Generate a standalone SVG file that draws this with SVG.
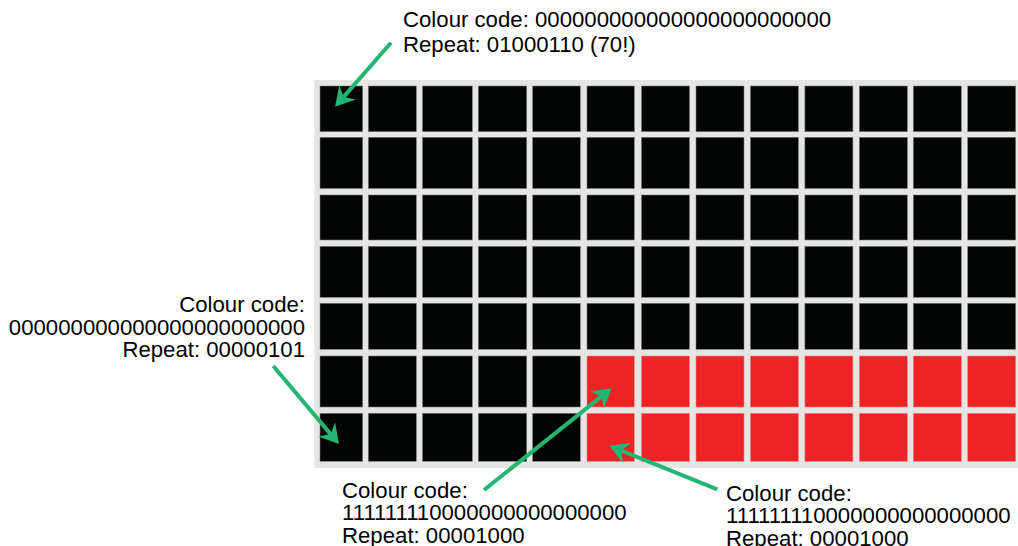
<svg xmlns="http://www.w3.org/2000/svg" width="1018" height="546" viewBox="0 0 1018 546">
<style>
  .lbl { font-family: "Liberation Sans", Arial, sans-serif; font-size: 22.2px; fill: #000; }
  .blk { fill: #030504; stroke: #7a7a7a; stroke-width: 0.6; }
  .red { fill: #ee2326; stroke: #f08080; stroke-width: 0.6; }
  .arr { stroke: #22b573; stroke-width: 4; fill: none; marker-end: url(#head); }
</style>
<defs>
  <marker id="head" viewBox="-20 -12 21 24" refX="-13" refY="0" markerWidth="21" markerHeight="24" markerUnits="userSpaceOnUse" orient="auto">
    <path d="M0,0 L-19,-11 L-13,0 L-19,11 Z" fill="#22b573"/>
  </marker>
</defs>
<rect width="1018" height="546" fill="#fff"/>
<g id="grid">
  <rect x="314.3" y="80" width="704" height="388" fill="#e5e5e4"/>
  <g id="row1">
    <rect class="blk" x="320" y="86" width="42.7" height="45.7"/>
    <rect class="blk" x="368.3" y="86" width="48" height="45.7"/>
    <rect class="blk" x="422.5" y="86" width="49.8" height="45.7"/>
    <rect class="blk" x="478.3" y="86" width="48.4" height="45.7"/>
    <rect class="blk" x="532.7" y="86" width="47.6" height="45.7"/>
    <rect class="blk" x="587" y="86" width="47.3" height="45.7"/>
    <rect class="blk" x="641.5" y="86" width="48" height="45.7"/>
    <rect class="blk" x="696" y="86" width="48" height="45.7"/>
    <rect class="blk" x="750.4" y="86" width="48" height="45.7"/>
    <rect class="blk" x="804.9" y="86" width="48" height="45.7"/>
    <rect class="blk" x="859.3" y="86" width="48" height="45.7"/>
    <rect class="blk" x="913.3" y="86" width="48" height="45.7"/>
    <rect class="blk" x="967.7" y="86" width="48" height="45.7"/>
  </g>
  <g id="row2">
    <rect class="blk" x="320" y="137.3" width="42.7" height="51.2"/>
    <rect class="blk" x="368.3" y="137.3" width="48" height="51.2"/>
    <rect class="blk" x="422.5" y="137.3" width="49.8" height="51.2"/>
    <rect class="blk" x="478.3" y="137.3" width="48.4" height="51.2"/>
    <rect class="blk" x="532.7" y="137.3" width="47.6" height="51.2"/>
    <rect class="blk" x="587" y="137.3" width="47.3" height="51.2"/>
    <rect class="blk" x="641.5" y="137.3" width="48" height="51.2"/>
    <rect class="blk" x="696" y="137.3" width="48" height="51.2"/>
    <rect class="blk" x="750.4" y="137.3" width="48" height="51.2"/>
    <rect class="blk" x="804.9" y="137.3" width="48" height="51.2"/>
    <rect class="blk" x="859.3" y="137.3" width="48" height="51.2"/>
    <rect class="blk" x="913.3" y="137.3" width="48" height="51.2"/>
    <rect class="blk" x="967.7" y="137.3" width="48" height="51.2"/>
  </g>
  <g id="row3">
    <rect class="blk" x="320" y="195" width="42.7" height="45"/>
    <rect class="blk" x="368.3" y="195" width="48" height="45"/>
    <rect class="blk" x="422.5" y="195" width="49.8" height="45"/>
    <rect class="blk" x="478.3" y="195" width="48.4" height="45"/>
    <rect class="blk" x="532.7" y="195" width="47.6" height="45"/>
    <rect class="blk" x="587" y="195" width="47.3" height="45"/>
    <rect class="blk" x="641.5" y="195" width="48" height="45"/>
    <rect class="blk" x="696" y="195" width="48" height="45"/>
    <rect class="blk" x="750.4" y="195" width="48" height="45"/>
    <rect class="blk" x="804.9" y="195" width="48" height="45"/>
    <rect class="blk" x="859.3" y="195" width="48" height="45"/>
    <rect class="blk" x="913.3" y="195" width="48" height="45"/>
    <rect class="blk" x="967.7" y="195" width="48" height="45"/>
  </g>
  <g id="row4">
    <rect class="blk" x="320" y="246.3" width="42.7" height="51"/>
    <rect class="blk" x="368.3" y="246.3" width="48" height="51"/>
    <rect class="blk" x="422.5" y="246.3" width="49.8" height="51"/>
    <rect class="blk" x="478.3" y="246.3" width="48.4" height="51"/>
    <rect class="blk" x="532.7" y="246.3" width="47.6" height="51"/>
    <rect class="blk" x="587" y="246.3" width="47.3" height="51"/>
    <rect class="blk" x="641.5" y="246.3" width="48" height="51"/>
    <rect class="blk" x="696" y="246.3" width="48" height="51"/>
    <rect class="blk" x="750.4" y="246.3" width="48" height="51"/>
    <rect class="blk" x="804.9" y="246.3" width="48" height="51"/>
    <rect class="blk" x="859.3" y="246.3" width="48" height="51"/>
    <rect class="blk" x="913.3" y="246.3" width="48" height="51"/>
    <rect class="blk" x="967.7" y="246.3" width="48" height="51"/>
  </g>
  <g id="row5">
    <rect class="blk" x="320" y="303.3" width="42.7" height="46"/>
    <rect class="blk" x="368.3" y="303.3" width="48" height="46"/>
    <rect class="blk" x="422.5" y="303.3" width="49.8" height="46"/>
    <rect class="blk" x="478.3" y="303.3" width="48.4" height="46"/>
    <rect class="blk" x="532.7" y="303.3" width="47.6" height="46"/>
    <rect class="blk" x="587" y="303.3" width="47.3" height="46"/>
    <rect class="blk" x="641.5" y="303.3" width="48" height="46"/>
    <rect class="blk" x="696" y="303.3" width="48" height="46"/>
    <rect class="blk" x="750.4" y="303.3" width="48" height="46"/>
    <rect class="blk" x="804.9" y="303.3" width="48" height="46"/>
    <rect class="blk" x="859.3" y="303.3" width="48" height="46"/>
    <rect class="blk" x="913.3" y="303.3" width="48" height="46"/>
    <rect class="blk" x="967.7" y="303.3" width="48" height="46"/>
  </g>
  <g id="row6">
    <rect class="blk" x="320" y="356" width="42.7" height="51"/>
    <rect class="blk" x="368.3" y="356" width="48" height="51"/>
    <rect class="blk" x="422.5" y="356" width="49.8" height="51"/>
    <rect class="blk" x="478.3" y="356" width="48.4" height="51"/>
    <rect class="blk" x="532.7" y="356" width="47.6" height="51"/>
    <rect class="red" x="587" y="356" width="47.3" height="51"/>
    <rect class="red" x="641.5" y="356" width="48" height="51"/>
    <rect class="red" x="696" y="356" width="48" height="51"/>
    <rect class="red" x="750.4" y="356" width="48" height="51"/>
    <rect class="red" x="804.9" y="356" width="48" height="51"/>
    <rect class="red" x="859.3" y="356" width="48" height="51"/>
    <rect class="red" x="913.3" y="356" width="48" height="51"/>
    <rect class="red" x="967.7" y="356" width="48" height="51"/>
  </g>
  <g id="row7">
    <rect class="blk" x="320" y="413.3" width="42.7" height="48"/>
    <rect class="blk" x="368.3" y="413.3" width="48" height="48"/>
    <rect class="blk" x="422.5" y="413.3" width="49.8" height="48"/>
    <rect class="blk" x="478.3" y="413.3" width="48.4" height="48"/>
    <rect class="blk" x="532.7" y="413.3" width="47.6" height="48"/>
    <rect class="red" x="587" y="413.3" width="47.3" height="48"/>
    <rect class="red" x="641.5" y="413.3" width="48" height="48"/>
    <rect class="red" x="696" y="413.3" width="48" height="48"/>
    <rect class="red" x="750.4" y="413.3" width="48" height="48"/>
    <rect class="red" x="804.9" y="413.3" width="48" height="48"/>
    <rect class="red" x="859.3" y="413.3" width="48" height="48"/>
    <rect class="red" x="913.3" y="413.3" width="48" height="48"/>
    <rect class="red" x="967.7" y="413.3" width="48" height="48"/>
  </g>
</g>
<g id="connectors">
  <line class="arr" x1="391" y1="42.7" x2="343.6" y2="96.9"/>
  <line class="arr" x1="273.3" y1="366" x2="330.6" y2="434.1"/>
  <line class="arr" x1="484" y1="490" x2="601.5" y2="396.4"/>
  <line class="arr" x1="717.3" y1="489.3" x2="621.4" y2="450.6"/>
</g>
<g id="label-top">
  <text class="lbl" x="403" y="27">Colour code: 000000000000000000000000</text>
  <text class="lbl" x="403" y="52">Repeat: 01000110 (70!)</text>
</g>
<g id="label-left">
  <text class="lbl" x="305" y="312" text-anchor="end">Colour code:</text>
  <text class="lbl" x="305" y="334.5" text-anchor="end">000000000000000000000000</text>
  <text class="lbl" x="305" y="357" text-anchor="end">Repeat: 00000101</text>
</g>
<g id="label-bottom-mid">
  <text class="lbl" x="342" y="497.5">Colour code:</text>
  <text class="lbl" x="342" y="520">111111110000000000000000</text>
  <text class="lbl" x="342" y="542.5">Repeat: 00001000</text>
</g>
<g id="label-bottom-right">
  <text class="lbl" x="726" y="500.5">Colour code:</text>
  <text class="lbl" x="726" y="523">111111110000000000000000</text>
  <text class="lbl" x="726" y="545.5">Repeat: 00001000</text>
</g>
</svg>
